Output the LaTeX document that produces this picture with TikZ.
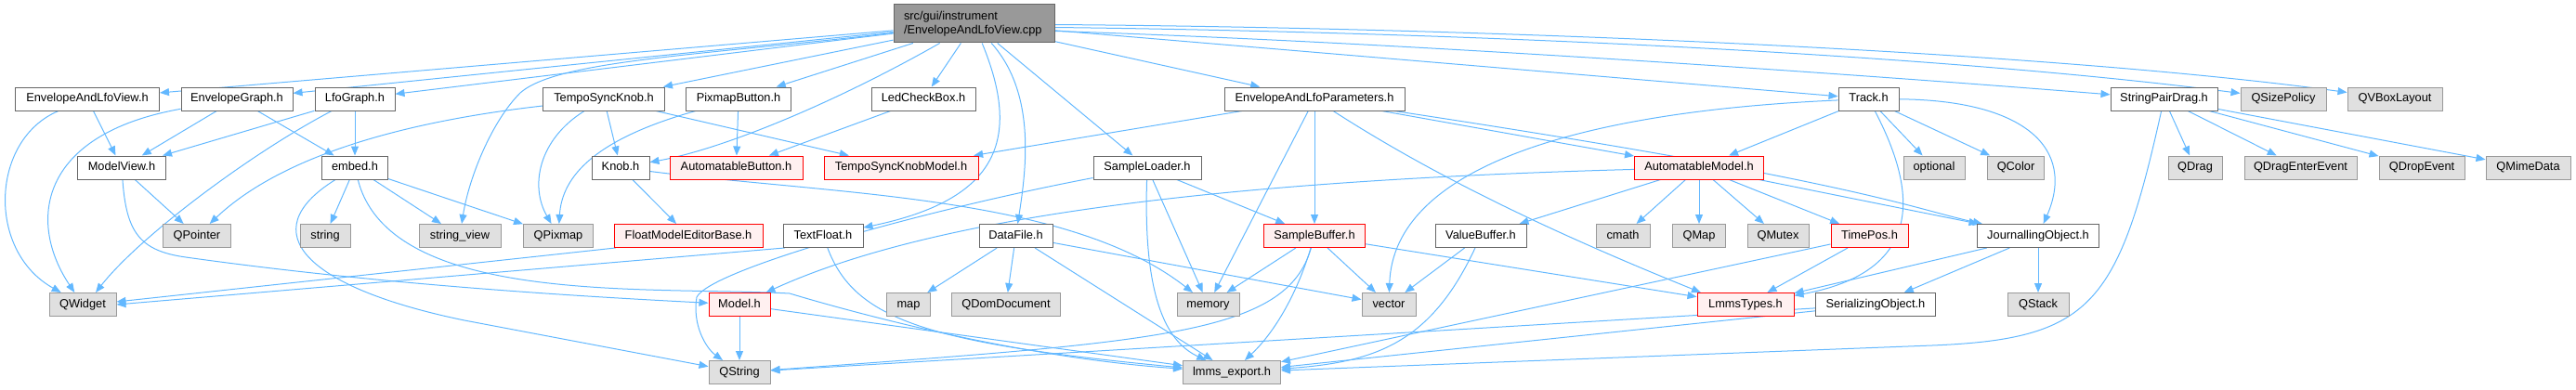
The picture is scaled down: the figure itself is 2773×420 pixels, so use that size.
\documentclass[tikz,border=0pt]{standalone}
\usepackage{fontspec}
\setmainfont{Liberation Sans}
\usetikzlibrary{arrows.meta}
\definecolor{edgec}{HTML}{63B8FF}
\definecolor{wborder}{HTML}{666666}
\definecolor{gborder}{HTML}{999999}
\definecolor{gfill}{HTML}{E0E0E0}
\definecolor{rfill}{HTML}{FFF0F0}
\definecolor{rborder}{HTML}{FF0000}
\definecolor{topfill}{HTML}{999999}
\pgfdeclarelayer{edgelayer}
\pgfsetlayers{edgelayer,main}
\begin{document}
\begin{tikzpicture}[x=1pt,y=-1pt,
  nb/.style={rectangle, minimum height=25, inner sep=0, line width=1.0,
    font=\fontsize{12.8}{15}\selectfont, text height=9.2, text depth=2.7},
  wb/.style={nb, draw=wborder, fill=white},
  gb/.style={nb, draw=gborder, fill=gfill},
  rb/.style={nb, draw=rborder, fill=rfill},
  tb/.style={nb, draw=wborder, fill=topfill, minimum height=41, align=left,
    inner xsep=11, text width=151, text height=, text depth=},
  e/.style={draw=edgec, line width=1.0, -{Triangle[length=10,width=8,fill=edgec]}}]
\useasboundingbox (0,0) rectangle (2773,420);
% top
\node[tb] (top) at (1048.5,25.5) {src/gui/instrument\\/EnvelopeAndLfoView.cpp};
% row 1
\node[wb, minimum width=155] (elv) at (94,106.5) {EnvelopeAndLfoView.h};
\node[wb, minimum width=120] (eg) at (255,106.5) {EnvelopeGraph.h};
\node[wb, minimum width=86] (lfo) at (382,106.5) {LfoGraph.h};
\node[wb, minimum width=131] (tsk) at (650,106.5) {TempoSyncKnob.h};
\node[wb, minimum width=113] (pb) at (795,106.5) {PixmapButton.h};
\node[wb, minimum width=112] (led) at (994,106.5) {LedCheckBox.h};
\node[wb, minimum width=194] (elp) at (1415,106.5) {EnvelopeAndLfoParameters.h};
\node[wb, minimum width=65] (track) at (2011.5,106.5) {Track.h};
\node[wb, minimum width=115] (spd) at (2329.5,106.5) {StringPairDrag.h};
\node[gb, minimum width=92] (qsp) at (2458,106.5) {QSizePolicy};
\node[gb, minimum width=102] (qvb) at (2578,106.5) {QVBoxLayout};
% row 2
\node[wb, minimum width=95] (mv) at (131,180.5) {ModelView.h};
\node[wb, minimum width=71] (embed) at (382,180.5) {embed.h};
\node[wb, minimum width=62] (knob) at (668,180.5) {Knob.h};
\node[rb, minimum width=143] (ab) at (792.5,180.5) {AutomatableButton.h};
\node[rb, minimum width=166] (tskm) at (970,180.5) {TempoSyncKnobModel.h};
\node[wb, minimum width=116] (sl) at (1235,180.5) {SampleLoader.h};
\node[rb, minimum width=139] (am) at (1829,180.5) {AutomatableModel.h};
\node[gb, minimum width=66] (optional) at (2082,180.5) {optional};
\node[gb, minimum width=61] (qcolor) at (2170,180.5) {QColor};
\node[gb, minimum width=58] (qdrag) at (2363,180.5) {QDrag};
\node[gb, minimum width=121] (qdee) at (2476.5,180.5) {QDragEnterEvent};
\node[gb, minimum width=92] (qde) at (2607,180.5) {QDropEvent};
\node[gb, minimum width=91] (qmd) at (2721.5,180.5) {QMimeData};
% row 3
\node[gb, minimum width=73] (qpointer) at (212,254) {QPointer};
\node[gb, minimum width=54] (string) at (350,254) {string};
\node[gb, minimum width=88] (sv) at (495,254) {string\_view};
\node[gb, minimum width=75] (qpixmap) at (601,254) {QPixmap};
\node[rb, minimum width=160] (fmeb) at (741,254) {FloatModelEditorBase.h};
\node[wb, minimum width=86] (tf) at (886,254) {TextFloat.h};
\node[wb, minimum width=79] (df) at (1093.5,254) {DataFile.h};
\node[rb, minimum width=109] (sb) at (1415,254) {SampleBuffer.h};
\node[wb, minimum width=98] (vb) at (1594,254) {ValueBuffer.h};
\node[gb, minimum width=58] (cmath) at (1747,254) {cmath};
\node[gb, minimum width=57] (qmap) at (1829,254) {QMap};
\node[gb, minimum width=66] (qmutex) at (1914,254) {QMutex};
\node[rb, minimum width=83] (tp) at (2012.5,254) {TimePos.h};
\node[wb, minimum width=131] (jo) at (2194,254) {JournallingObject.h};
% row 4
\node[gb, minimum width=72] (qwidget) at (89,328) {QWidget};
\node[rb, minimum width=66] (model) at (796,328) {Model.h};
\node[gb, minimum width=47] (map) at (978,328) {map};
\node[gb, minimum width=117] (qdom) at (1083,328) {QDomDocument};
\node[gb, minimum width=67] (memory) at (1300.5,328) {memory};
\node[gb, minimum width=58] (vector) at (1495,328) {vector};
\node[rb, minimum width=104] (lt) at (1879,328) {LmmsTypes.h};
\node[wb, minimum width=129] (so) at (2019,328) {SerializingObject.h};
\node[gb, minimum width=66] (qstack) at (2194,328) {QStack};
% row 5
\node[gb, minimum width=66] (qstring) at (796,401) {QString};
\node[gb, minimum width=105] (le) at (1326,401) {lmms\_export.h};

\begin{pgfonlayer}{edgelayer}
% edges from top
\foreach \t in {elv,eg,lfo,tsk,pb,led,elp,sl,track}
  \draw[e] (top) -- (\t);
\draw[e] ([yshift=-8]top.east) .. controls (1500,45) and (2000,80) .. (spd);
\draw[e] ([yshift=-4]top.east) .. controls (1600,35) and (2100,60) .. (qsp);
\draw[e] ([yshift=-1]top.east) .. controls (1600,30) and (2200,55) .. (qvb);
\draw[e] (top) .. controls (750,60) and (600,65) .. (560,100) .. controls (530,130) and (505,190) .. (sv);
\draw[e] (top) .. controls (900,110) and (780,160) .. (knob);
\draw[e] (top) .. controls (1100,150) and (1075,215) .. (tf);
\draw[e] (top) .. controls (1115,100) and (1105,180) .. (df);

% row 1 sources
\draw[e] (elv) -- (mv);
\draw[e] (elv) .. controls (-10,150) and (-15,270) .. (qwidget);
\draw[e] (eg) -- (mv);
\draw[e] (eg) -- (embed);
\draw[e] (eg) .. controls (40,145) and (30,240) .. (qwidget);
\draw[e] (lfo) -- (mv);
\draw[e] (lfo) -- (embed);
\draw[e] ([xshift=-25]lfo.south) .. controls (270,165) and (150,255) .. ([xshift=14]qwidget.north);
\draw[e] (tsk) -- (knob);
\draw[e] (tsk) -- (tskm);
\draw[e] (tsk) .. controls (400,135) and (290,180) .. (qpointer);
\draw[e] (tsk) .. controls (580,150) and (570,200) .. (qpixmap);
\draw[e] (pb) -- (ab);
\draw[e] (pb) .. controls (640,150) and (605,190) .. (qpixmap);
\draw[e] (led) -- (ab);
\draw[e] (elp) -- (tskm);
\draw[e] (elp) -- (sb);
\draw[e] (elp) -- (am);
\draw[e] (elp) -- (memory);
\draw[e] (elp) .. controls (1560,200) and (1700,262) .. ([xshift=-48]lt.north);
\draw[e] (elp) .. controls (2000,195) and (2060,225) .. (jo);
\draw[e] (track) -- (am);
\draw[e] (track) -- (optional);
\draw[e] (track) -- (qcolor);
\draw[e] (track) .. controls (2180,108) and (2235,160) .. (jo);
\draw[e] (track) .. controls (2055,190) and (2085,290) .. (lt);
\draw[e] (track) .. controls (1700,120) and (1500,180) .. (vector);
\foreach \t in {qdrag,qdee,qde,qmd}
  \draw[e] (spd) -- (\t);
\draw[e] (spd) .. controls (2280,330) and (2250,365) .. (2080,372) -- (le);

% row 2 sources
\draw[e] (mv) -- (qpointer);
\draw[e] (mv) .. controls (136,250) and (150,270) .. (200,277) .. controls (400,305) and (600,318) .. (model);
\draw[e] (embed) -- (string);
\draw[e] (embed) -- (sv);
\draw[e] (embed) -- (qpixmap);
\draw[e] (embed) .. controls (270,250) and (330,310) .. (500,345) -- (qstring);
\draw[e] (embed) .. controls (420,330) and (700,308) .. (850,316) .. controls (930,340) and (1100,385) .. (le);
\draw[e] (knob) -- (fmeb);
\draw[e] (knob) .. controls (900,210) and (1150,210) .. (memory);
\draw[e] (sl) -- (sb);
\draw[e] (sl) -- (memory);
\draw[e] (sl) .. controls (1230,330) and (1260,370) .. (le);
\draw[e] (sl) .. controls (1000,225) and (765,290) .. (750,320) .. controls (745,350) and (760,375) .. (qstring);
\draw[e] (am) .. controls (1300,195) and (1000,235) .. (model);
\foreach \t in {vb,cmath,qmap,qmutex,tp,jo}
  \draw[e] (am) -- (\t);

% row 3 sources
\draw[e] ([xshift=2]fmeb.south west) -- ([yshift=3]qwidget.east);
\draw[e] ([xshift=2]tf.south west) -- (qwidget.east);
\draw[e] (tf) .. controls (920,345) and (1000,370) .. (le);
\draw[e] (df) -- (map);
\draw[e] (df) -- (qdom);
\draw[e] (df) -- (le);
\draw[e] (df) -- (vector);
\draw[e] (sb) -- (memory);
\draw[e] (sb) -- (vector);
\draw[e] (sb) -- (lt);
\draw[e] (sb) .. controls (1395,320) and (1370,360) .. (le);
\draw[e] (sb) .. controls (1385,360) and (1250,368) .. (qstring);
\draw[e] (vb) -- (vector);
\draw[e] (vb) .. controls (1540,370) and (1480,390) .. (le);
\draw[e] (tp) -- (lt);
\draw[e] (tp) -- (le);
\draw[e] (jo) -- (qstack);
\draw[e] (jo) -- (so);
\draw[e] (jo) -- (lt);

% row 4 sources
\draw[e] (model) -- (qstring);
\draw[e] (model) -- (le);
\draw[e] (so) -- (le);
\draw[e] (so) -- (qstring);
\end{pgfonlayer}
\end{tikzpicture}
\end{document}
